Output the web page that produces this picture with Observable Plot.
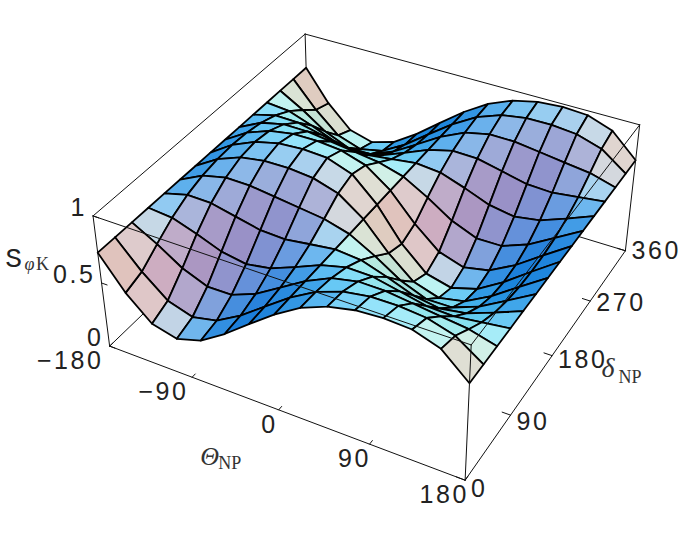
<!DOCTYPE html>
<html><head><meta charset="utf-8">
<script src="https://cdn.jsdelivr.net/npm/d3@7"></script>
<script src="https://cdn.jsdelivr.net/npm/@observablehq/plot@0.6"></script>
<style>html,body{margin:0;padding:0;background:#fff}svg{display:block}
.wide text{letter-spacing:2.6px}</style>
</head><body><div id="chart"></div>
<script>
const thetaValues=[-180,-154.3,-128.6,-102.9,-77.1,-51.4,-25.7,0,25.7,51.4,77.1,102.9,128.6,154.3,180];
const deltaValues=[0,25.7,51.4,77.1,102.9,128.6,154.3,180,205.7,231.4,257.1,282.9,308.6,334.3,360];
// S values: one row per theta, one column per delta
const sRows=[
[.73,.73,.73,.73,.73,.73,.73,.73,.73,.73,.73,.73,.73,.73,.73],
[.490,.532,.626,.713,.777,.817,.839,.846,.839,.817,.777,.713,.626,.532,.490],
[.318,.373,.504,.650,.773,.858,.907,.923,.907,.858,.773,.650,.504,.373,.318],
[.270,.313,.427,.578,.731,.856,.937,.965,.937,.856,.731,.578,.427,.313,.270],
[.327,.353,.429,.546,.689,.832,.939,.978,.939,.832,.689,.546,.429,.353,.327],
[.447,.460,.503,.577,.681,.807,.921,.967,.921,.807,.681,.577,.503,.460,.447],
[.591,.597,.616,.651,.706,.783,.864,.902,.864,.783,.706,.651,.616,.597,.591],
[.73,.73,.73,.73,.73,.73,.73,.73,.73,.73,.73,.73,.73,.73,.73],
[.846,.839,.817,.777,.713,.626,.532,.490,.532,.626,.713,.777,.817,.839,.846],
[.923,.907,.858,.773,.650,.504,.373,.318,.373,.504,.650,.773,.858,.907,.923],
[.965,.937,.856,.731,.578,.427,.313,.270,.313,.427,.578,.731,.856,.937,.965],
[.978,.939,.832,.689,.546,.429,.353,.327,.353,.429,.546,.689,.832,.939,.978],
[.967,.921,.807,.681,.577,.503,.460,.447,.460,.503,.577,.681,.807,.921,.967],
[.902,.864,.783,.706,.651,.616,.597,.591,.597,.616,.651,.706,.783,.864,.902],
[.73,.73,.73,.73,.73,.73,.73,.73,.73,.73,.73,.73,.73,.73,.73]
];
const thetaTicks=[-180,-90,0,90,180];
const deltaTicks=[0,90,180,270,360];
const sTicks=[0,0.5,1];

// Camera: world axes expressed in view coordinates (right, up, toward viewer)
const axisTheta=[.878,-.281,.385], axisDelta=[.474,.519,-.70], axisS=[0,.816,.603];
const boxHeight=.4, viewDist=4.16, viewScale=392, viewCx=376.5, viewCy=234;
const unit=(t,d,s)=>[(t+180)/360-.5,d/360-.5,(s-.5)*boxHeight];
const toView=([a,b,c])=>[0,1,2].map(k=>a*axisTheta[k]+b*axisDelta[k]+c*axisS[k]);
function project(t,d,s){
  const [X,Y,Z]=toView(unit(t,d,s));
  const w=1-Z/viewDist;
  return {px:viewCx+viewScale*X/w,py:viewCy-viewScale*Y/w,depth:Z};
}
// Shading: each colour channel responds linearly to the face normal in view coordinates
const shadeR=[136,78,162,0],shadeG=[95,190,118,0],shadeB=[7,132,70,100];
const norm=a=>{const l=Math.hypot(...a);return a.map(v=>v/l)};
const sub=(a,b)=>a.map((v,k)=>v-b[k]);
const cross=(a,b)=>[a[1]*b[2]-a[2]*b[1],a[2]*b[0]-a[0]*b[2],a[0]*b[1]-a[1]*b[0]];
function faceColor(corners){
  const p=corners.map(c=>unit(c[0],c[1],c[2]));
  let n=cross(sub(p[2],p[0]),sub(p[3],p[1]));
  if(n[2]<0)n=n.map(v=>-v);
  n=norm(toView(n));
  const ch=s=>Math.round(Math.min(255,Math.max(15,s[0]*n[0]+s[1]*n[1]+s[2]*n[2]+s[3])));
  return `rgb(${ch(shadeR)},${ch(shadeG)},${ch(shadeB)})`;
}
// Faces, far to near
const faces=[];
for(let i=0;i<thetaValues.length-1;i++)for(let j=0;j<deltaValues.length-1;j++){
  const corners=[[i,j],[i+1,j],[i+1,j+1],[i,j+1]].map(([a,b])=>[thetaValues[a],deltaValues[b],sRows[a][b]]);
  const depth=d3.mean(corners,c=>project(...c).depth);
  faces.push({id:`${i}-${j}`,corners,depth,color:faceColor(corners)});
}
faces.sort((a,b)=>a.depth-b.depth);
const facePoints=faces.flatMap(f=>[...f.corners,f.corners[0]].map(c=>({...project(...c),face:f.id,color:f.color})));

const edge=(name,a,b)=>[a,b].map(c=>({...project(...c),edge:name}));
const backEdges=[
 edge("top-left",[-180,0,1],[-180,360,1]),edge("top-back",[-180,360,1],[180,360,1]),
 edge("back-vert",[-180,360,0],[-180,360,1]),edge("base-left",[-180,0,0],[-180,360,0]),edge("base-back",[-180,360,0],[180,360,0])
].flat();
const frontEdges=[
 edge("top-front",[-180,0,1],[180,0,1]),edge("top-right",[180,0,1],[180,360,1]),edge("front-vert",[180,0,0],[180,0,1]),
 edge("left-vert",[-180,0,0],[-180,0,1]),edge("base-front",[-180,0,0],[180,0,0]),edge("base-right",[180,0,0],[180,360,0]),
 edge("right-vert",[180,360,0],[180,360,1])
].flat();
const tickData=[
 ...thetaTicks.flatMap(t=>edge("t"+t,[t,0,0],[t,5,0])),
 ...deltaTicks.flatMap(d=>edge("d"+d,[180,d,0],[172,d,0])),
 ...sTicks.flatMap(s=>edge("s"+s,[-180,0,s],[-174,0,s]))
];
const sans={fontFamily:"Liberation Sans",fontSize:25,fill:"#222",className:"wide"};
const serif={fontFamily:"Liberation Serif",fill:"#333"};
const at=(t,d,s)=>({x:()=>project(t,d,s).px,y:()=>project(t,d,s).py});
const chart=Plot.plot({
  width:682,height:553,margin:0,
  x:{domain:[0,682],range:[0,682],axis:null},
  y:{domain:[0,553],range:[0,553],axis:null},
  color:{type:"identity"},
  marks:[
    Plot.line(backEdges,{x:"px",y:"py",z:"edge",stroke:"#111",strokeWidth:1}),
    Plot.line(facePoints,{x:"px",y:"py",z:"face",fill:"color",stroke:"#000",strokeWidth:1.8}),
    Plot.line(frontEdges,{x:"px",y:"py",z:"edge",stroke:"#111",strokeWidth:1}),
    Plot.line(tickData,{x:"px",y:"py",z:"edge",stroke:"#111",strokeWidth:1}),
    Plot.text(thetaTicks,{x:t=>project(t,0,0).px+t/180*5,y:t=>project(t,0,0).py,text:t=>String(t).replace("-","\u2212"),textAnchor:"end",dx:-1,dy:15,...sans}),
    Plot.text(deltaTicks,{x:d=>project(180,d,0).px,y:d=>project(180,d,0).py+3-d/360*9,text:d=>String(d),textAnchor:"start",dx:6,dy:6,...sans}),
    Plot.text(sTicks,{x:s=>project(-180,0,s).px,y:s=>project(-180,0,s).py,text:s=>String(s),textAnchor:"end",dx:-6,dy:-8,...sans}),
    Plot.text(["S"],{...at(-180,0,.5),text:d=>d,dx:-88,dy:-25,fontFamily:"Liberation Mono",fontSize:28,fill:"#222"}),
    Plot.text(["\u03c6"],{...at(-180,0,.5),text:d=>d,dx:-72,dy:-19,fontSize:18,...serif,fontStyle:"italic"}),
    Plot.text(["K"],{...at(-180,0,.5),text:d=>d,dx:-59,dy:-19,fontSize:18,...serif}),
    Plot.text(["\u0398"],{...at(0,0,0),text:d=>d,dx:-69,dy:47,fontSize:26,...serif,fontStyle:"italic"}),
    Plot.text(["NP"],{...at(0,0,0),text:d=>d,dx:-49,dy:53,fontSize:18,...serif}),
    Plot.text(["\u03b4"],{...at(180,180,0),text:d=>d,dx:56,dy:12,fontSize:28,...serif,fontStyle:"italic"}),
    Plot.text(["NP"],{...at(180,180,0),text:d=>d,dx:78,dy:22,fontSize:18,...serif})
  ]
});
document.getElementById("chart").append(chart);
</script></body></html>
